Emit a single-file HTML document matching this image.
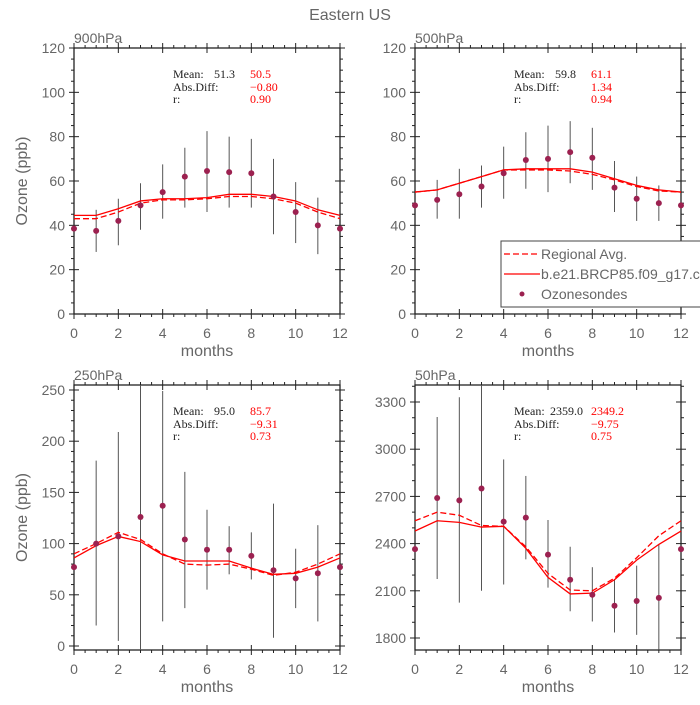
<!DOCTYPE html>
<html><head><meta charset="utf-8">
<style>
html,body{margin:0;padding:0;background:#fff;}
svg text{font-family:"Liberation Sans",sans-serif;}
.tk{fill:#666;font-size:14px;}
.st{font-family:"Liberation Serif",serif !important;font-size:12px;}
</style></head>
<body>
<svg id="chart" width="700" height="700" viewBox="0 0 700 700" xmlns="http://www.w3.org/2000/svg">
<text x="350" y="20" text-anchor="middle" font-size="16" fill="#666">Eastern US</text>
</svg>
<script>
const months=[0,1,2,3,4,5,6,7,8,9,10,11,12];
// 900hPa
const obs900=[38.5,37.5,42,49,55,62,64.5,64,63.5,53,46,40,38.5];
const lo900=[null,28,31,38,43,48,46,48,48,36,32,27,null];
const hi900=[null,47,52,59,67.5,75,82.5,80,79,70,59.5,52.5,null];
const mod900=[44.5,44.5,47.5,51,52,52,52.5,54,54,53,51,47,44.5];
const reg900=[43,43,46,50,51.5,51.5,52,53,53,52,50,46,43];
const stats900=["51.3","50.5","\u22120.80","0.90"];
// 500hPa
const obs500=[49,51.5,54,57.5,63.5,69.5,70,73,70.5,57,52,50,49];
const lo500=[null,43,43,48,52,56.5,55,59,56,46,42,42,null];
const hi500=[null,60.5,65.5,67,75.5,82,85,87,84,69,62,58,null];
const mod500=[55,56,59,62,65,65.5,65.5,65.5,64,61,58,56,55];
const reg500=[55,56,59,62,65,65,65,64.5,63,60.5,57.5,55.5,55];
const stats500=["59.8","61.1","1.34","0.94"];
// 250hPa
const obs250=[77,100,107,126,137,104,94,94,88,74,66,71,77];
const lo250=[null,20,5,-4,24,37,55,70,65,8,37,24,null];
const hi250=[null,181,209,256,249,170,133,117,111,139,95,118,null];
const mod250=[86,98,107,102,89,83,83,83,76,70,71,77,86];
const reg250=[90,100,111,104,90,80,79,80,75,69,72,80,90];
const stats250=["95.0","85.7","\u22129.31","0.73"];
// 50hPa
const obs50=[2365,2690,2675,2750,2540,2565,2330,2170,2075,2005,2035,2055,2365];
const lo50=[null,2175,2025,2100,2140,2300,2120,1970,1905,1835,1820,1725,null];
const hi50=[null,3205,3330,3410,2935,2830,2550,2380,2250,2175,2260,2395,null];
const mod50=[2480,2545,2535,2505,2510,2370,2185,2080,2085,2170,2295,2395,2480];
const reg50=[2545,2600,2580,2515,2510,2380,2210,2105,2100,2180,2310,2450,2545];
const stats50=["2359.0","2349.2","\u22129.75","0.75"];
const yt120=[0,20,40,60,80,100,120];
const yt250=[0,50,100,150,200,250];
const yt50=[1800,2100,2400,2700,3000,3300];
const xt=[0,2,4,6,8,10,12];

const NS="http://www.w3.org/2000/svg";
const svg=document.getElementById('chart');
function mk(tag,attrs,parent,txt){const e=document.createElementNS(NS,tag);for(const k in attrs)e.setAttribute(k,attrs[k]);if(txt!==undefined)e.textContent=txt;(parent||svg).appendChild(e);return e;}

function panel(p){
  const g=mk('g',{});
  
  
  const L=p.x0,R=p.x0+266,T=p.top,B=p.bot;
  const X=m=>L+(R-L)*m/12;
  const Y=v=>p.yA+(v-p.v0)*(p.yB-p.yA)/(p.v1-p.v0);
  const clampY=v=>Math.max(T,Math.min(B,Y(v)));
  const fr=mk('rect',{x:L,y:T,width:R-L,height:B-T,fill:'none',stroke:'#222','stroke-width':1.3},g);
  
  
  for(let m=0;m<=12;m+=0.5){
    const major=(m%2===0), x=X(m);
    if(major){mk('line',{x1:x,y1:B-5,x2:x,y2:B+5,stroke:'#222'},g);mk('line',{x1:x,y1:T-5,x2:x,y2:T+5,stroke:'#222'},g);}
    else{mk('line',{x1:x,y1:B,x2:x,y2:B+3,stroke:'#222'},g);mk('line',{x1:x,y1:T,x2:x,y2:T-3,stroke:'#222'},g);}
  }
  xt.forEach(m=>{const t=mk('text',{x:X(m),y:B+24,'text-anchor':'middle',class:'tk'},g,String(m));
    
    });
  const step=p.ticks[1]-p.ticks[0], mstep=step/p.minor;
  for(let v=p.ticks[0]-step;v<=p.ticks[p.ticks.length-1]+step;v+=mstep){
    const y=Y(v); if(y<T-0.5||y>B+0.5)continue;
    const isMaj=p.ticks.some(t=>Math.abs(t-v)<1e-6);
    if(isMaj){mk('line',{x1:L-5,y1:y,x2:L+5,y2:y,stroke:'#222'},g);mk('line',{x1:R-5,y1:y,x2:R+5,y2:y,stroke:'#222'},g);}
    else{mk('line',{x1:L-3,y1:y,x2:L,y2:y,stroke:'#222'},g);mk('line',{x1:R,y1:y,x2:R+3,y2:y,stroke:'#222'},g);}
  }
  p.ticks.forEach(v=>{const t=mk('text',{x:L-9,y:Y(v)+5,'text-anchor':'end',class:'tk'},g,String(v));
    
    });
  const pt=mk('text',{x:L,y:T-5,'font-size':14,fill:'#666'},g,p.title);
  
  
  const xl=mk('text',{x:(L+R)/2,y:B+42,'text-anchor':'middle','font-size':16,fill:'#666'},g,'months');
  
  
  if(p.ylab){const yl=mk('text',{x:27,y:(T+B)/2,'text-anchor':'middle','font-size':16,fill:'#666',transform:`rotate(-90 27 ${(T+B)/2})`},g,'Ozone (ppb)');
    
    }
  months.forEach((m,i)=>{if(p.lo[i]===null)return;
    const e=mk('line',{x1:X(m),x2:X(m),y1:clampY(p.lo[i]),y2:clampY(p.hi[i]),stroke:'#555','stroke-width':1},g);
    
    });
  const pts=a=>a.map((v,i)=>X(months[i])+','+Y(v)).join(' ');
  const l1=mk('polyline',{points:pts(p.reg),fill:'none',stroke:'#f00','stroke-width':1.3,'stroke-dasharray':'6,3'},g);
  
  
  const l2=mk('polyline',{points:pts(p.mod),fill:'none',stroke:'#f00','stroke-width':1.3},g);
  
  
  months.forEach((m,i)=>{const c=mk('circle',{cx:X(m),cy:Y(p.obs[i]),r:3,fill:'#9c2150'},g);
    
    });
  const sx=L+99, sy=T+30;
  const sg=mk('g',{class:'st'},g);
  
  
  mk('text',{x:sx,y:sy,class:'st',fill:'#222'},sg,'Mean:');
  mk('text',{x:sx+(p.wide?36:41),y:sy,class:'st',fill:'#222'},sg,p.st[0]);
  mk('text',{x:sx+77,y:sy,class:'st',fill:'#f00'},sg,p.st[1]);
  mk('text',{x:sx,y:sy+13,class:'st',fill:'#222'},sg,'Abs.Diff:');
  mk('text',{x:sx+77,y:sy+13,class:'st',fill:'#f00'},sg,p.st[2]);
  mk('text',{x:sx,y:sy+25,class:'st',fill:'#222'},sg,'r:');
  mk('text',{x:sx+77,y:sy+25,class:'st',fill:'#f00'},sg,p.st[3]);
}
panel({name:'p900',title:'900hPa',x0:74,top:48,bot:314,yA:314,yB:48,v0:0,v1:120,ticks:yt120,minor:4,ylab:true,obs:obs900,lo:lo900,hi:hi900,mod:mod900,reg:reg900,st:stats900});
panel({name:'p500',title:'500hPa',x0:415,top:48,bot:314,yA:314,yB:48,v0:0,v1:120,ticks:yt120,minor:4,ylab:false,obs:obs500,lo:lo500,hi:hi500,mod:mod500,reg:reg500,st:stats500});
panel({name:'p250',title:'250hPa',x0:74,top:385,bot:650,yA:646,yB:390,v0:0,v1:250,ticks:yt250,minor:5,ylab:true,obs:obs250,lo:lo250,hi:hi250,mod:mod250,reg:reg250,st:stats250});
panel({name:'p50',title:'50hPa',x0:415,top:385,bot:650,yA:638,yB:402,v0:1800,v1:3300,ticks:yt50,minor:3,ylab:false,wide:true,obs:obs50,lo:lo50,hi:hi50,mod:mod50,reg:reg50,st:stats50});

const lg=mk('g',{});


mk('rect',{x:501,y:241,width:210,height:66,fill:'#fff',stroke:'#444','stroke-width':1},lg);
mk('line',{x1:504,y1:254,x2:540,y2:254,stroke:'#f00','stroke-width':1.3,'stroke-dasharray':'6,3'},lg);
const e1=mk('text',{x:541,y:259,'font-size':14,fill:'#666'},lg,'Regional Avg.');


mk('line',{x1:504,y1:274,x2:540,y2:274,stroke:'#f00','stroke-width':1.3},lg);
const e2=mk('text',{x:541,y:279,'font-size':14,fill:'#666'},lg,'b.e21.BRCP85.f09_g17.c');


mk('circle',{cx:522,cy:294,r:2.5,fill:'#9c2150'},lg);
const e3=mk('text',{x:541,y:299,'font-size':14,fill:'#666'},lg,'Ozonesondes');


</script>
</body></html>
